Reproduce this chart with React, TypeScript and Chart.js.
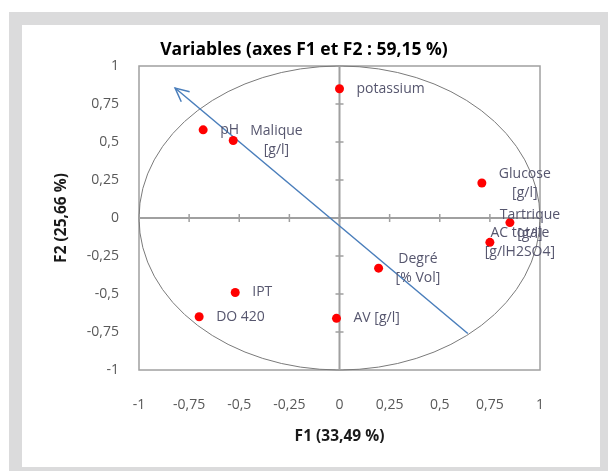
import React, { useEffect, useRef } from "react";
import { Chart, registerables } from "chart.js";

Chart.register(...registerables);

// ---- data ----
const variableNames = [
  "potassium",
  "pH",
  "Malique [g/l]",
  "Glucose [g/l]",
  "Tartrique [g/l]",
  "AC totale [g/lH2SO4]",
  "Degré [% Vol]",
  "IPT",
  "DO 420",
  "AV [g/l]",
];
const labelLines = [
  ["potassium"],
  ["pH"],
  ["Malique", "[g/l]"],
  ["Glucose", "[g/l]"],
  ["Tartrique", "[g/l]"],
  ["AC totale", "[g/lH2SO4]"],
  ["Degré", "[% Vol]"],
  ["IPT"],
  ["DO 420"],
  ["AV [g/l]"],
];
const f1Values = [0.0, -0.68, -0.53, 0.71, 0.85, 0.75, 0.195, -0.52, -0.7, -0.015];
const f2Values = [0.85, 0.58, 0.51, 0.23, -0.03, -0.16, -0.33, -0.49, -0.65, -0.66];
const arrowF1 = [0.64, -0.82];
const arrowF2 = [-0.76, 0.855];
const tickValues = [-1, -0.75, -0.5, -0.25, 0, 0.25, 0.5, 0.75, 1];

const titleText = "Variables (axes F1 et F2 : 59,15 %)";
const xTitle = "F1 (33,49 %)";
const yTitle = "F2 (25,66 %)";

// ---- style ----
const FONT = "'Open Sans', 'Liberation Sans', sans-serif";
const LABEL_GAP = 17;
const LABEL_LINE = 19;
const labelCenterOverride: Record<string, number> = {
  "Tartrique [g/l]": 20,
  "AC totale [g/lH2SO4]": 30,
};
const labelDyOverride: Record<string, number> = {
  "Tartrique [g/l]": 2,
};

const fmt = (v: number) => String(v).replace(".", ",");

const pcaPlugin = {
  id: "pcaDecor",
  beforeDatasetsDraw(chart: any) {
    const { ctx, chartArea: a, scales } = chart;
    const x = scales.x;
    const y = scales.y;
    ctx.save();
    // plot frame
    ctx.strokeStyle = "#a0a0a0";
    ctx.lineWidth = 1.5;
    ctx.strokeRect(a.left, a.top, a.right - a.left, a.bottom - a.top);
    // correlation circle
    const cx = x.getPixelForValue(0);
    const cy = y.getPixelForValue(0);
    const rx = x.getPixelForValue(1) - cx;
    const ry = cy - y.getPixelForValue(1);
    ctx.beginPath();
    ctx.ellipse(cx, cy, rx, ry, 0, 0, Math.PI * 2);
    ctx.strokeStyle = "#7a7a7a";
    ctx.lineWidth = 1;
    ctx.stroke();
    // crossing axes
    ctx.strokeStyle = "#a0a0a0";
    ctx.lineWidth = 2;
    ctx.beginPath();
    ctx.moveTo(x.getPixelForValue(-1), cy);
    ctx.lineTo(x.getPixelForValue(1), cy);
    ctx.moveTo(cx, y.getPixelForValue(1));
    ctx.lineTo(cx, y.getPixelForValue(-1));
    ctx.stroke();
    ctx.lineWidth = 1.5;
    ctx.beginPath();
    tickValues.forEach((v) => {
      const px = x.getPixelForValue(v);
      ctx.moveTo(px, cy - 4);
      ctx.lineTo(px, cy + 4);
      const py = y.getPixelForValue(v);
      ctx.moveTo(cx - 4, py);
      ctx.lineTo(cx + 4, py);
    });
    ctx.stroke();
    ctx.restore();
  },
  afterDatasetsDraw(chart: any) {
    const { ctx, scales } = chart;
    const x = scales.x;
    const y = scales.y;
    ctx.save();
    // arrow head
    const tx = x.getPixelForValue(arrowF1[1]);
    const ty = y.getPixelForValue(arrowF2[1]);
    const sx = x.getPixelForValue(arrowF1[0]);
    const sy = y.getPixelForValue(arrowF2[0]);
    const ang = Math.atan2(sy - ty, sx - tx);
    const len = 15;
    const spread = Math.PI / 7;
    ctx.strokeStyle = "#4a7ebb";
    ctx.lineWidth = 1.5;
    ctx.beginPath();
    ctx.moveTo(tx + len * Math.cos(ang - spread), ty + len * Math.sin(ang - spread));
    ctx.lineTo(tx, ty);
    ctx.lineTo(tx + len * Math.cos(ang + spread), ty + len * Math.sin(ang + spread));
    ctx.stroke();
    // point labels
    ctx.font = `14px ${FONT}`;
    ctx.fillStyle = "#56566e";
    ctx.textAlign = "center";
    ctx.textBaseline = "middle";
    variableNames.forEach((name, i) => {
      const px = x.getPixelForValue(f1Values[i]);
      const py = y.getPixelForValue(f2Values[i]);
      const lines = labelLines[i];
      const w = Math.max(...lines.map((l) => ctx.measureText(l).width));
      const centerX =
        name in labelCenterOverride ? px + labelCenterOverride[name] : px + LABEL_GAP + w / 2;
      const dy = labelDyOverride[name] || 0;
      const startY = py + dy - ((lines.length - 1) * LABEL_LINE) / 2;
      lines.forEach((l, j) => ctx.fillText(l, centerX, startY + j * LABEL_LINE));
    });
    ctx.restore();
  },
};

export default function App() {
  const ref = useRef<HTMLCanvasElement | null>(null);

  useEffect(() => {
    if (!ref.current) return;
    const tickFont = { family: FONT, size: 14 };
    const chart = new Chart(ref.current, {
      type: "scatter",
      data: {
        datasets: [
          {
            label: "variables",
            data: f1Values.map((v, i) => ({ x: v, y: f2Values[i] })),
            backgroundColor: "#ff0000",
            borderColor: "#ff0000",
            pointRadius: 4.5,
            pointBorderWidth: 0,
          },
          {
            label: "arrow",
            data: arrowF1.map((v, i) => ({ x: v, y: arrowF2[i] })),
            showLine: true,
            borderColor: "#4a7ebb",
            borderWidth: 1.5,
            pointRadius: 0,
          },
        ],
      },
      options: {
        responsive: false,
        animation: false,
        layout: { padding: 0 },
        plugins: {
          legend: { display: false },
          tooltip: { enabled: false },
          title: {
            display: true,
            text: titleText,
            color: "#000000",
            font: { family: FONT, size: 17.5, weight: "bold" },
            padding: { top: 39.5, bottom: 5.5 },
          },
        },
        scales: {
          x: {
            type: "linear",
            min: -1,
            max: 1,
            afterBuildTicks: (s: any) => {
              s.ticks = tickValues.map((v) => ({ value: v }));
            },
            afterFit: (s: any) => {
              s.height = 101;
            },
            ticks: {
              callback: (v: any) => fmt(Number(v)),
              color: "#595959",
              font: tickFont,
              padding: 27,
              autoSkip: false,
              maxRotation: 0,
            },
            grid: { display: false, drawTicks: false },
            border: { display: false },
            title: {
              display: true,
              text: xTitle,
              color: "#1a1a1a",
              font: { family: FONT, size: 15.5, weight: "bold" },
              padding: { top: 0, bottom: 24.7 },
            },
          },
          y: {
            type: "linear",
            position: "left",
            min: -1,
            max: 1,
            afterBuildTicks: (s: any) => {
              s.ticks = tickValues.map((v) => ({ value: v }));
            },
            afterFit: (s: any) => {
              s.width = 139;
            },
            ticks: {
              callback: (v: any) => fmt(Number(v)),
              color: "#595959",
              font: tickFont,
              padding: 20,
              autoSkip: false,
            },
            grid: { display: false, drawTicks: false },
            border: { display: false },
            title: {
              display: true,
              text: yTitle,
              color: "#1a1a1a",
              font: { family: FONT, size: 15.5, weight: "bold" },
              padding: { top: 52.7, bottom: 0 },
            },
          },
          y2: {
            type: "linear",
            position: "right",
            min: -1,
            max: 1,
            ticks: { display: false },
            grid: { display: false, drawTicks: false },
            border: { display: false },
            afterFit: (s: any) => {
              s.width = 68;
            },
          },
        },
      } as any,
      plugins: [pcaPlugin],
    });
    return () => chart.destroy();
  }, []);

  return (
    <div
      style={{
        position: "fixed",
        left: 0,
        top: 0,
        width: 608,
        height: 471,
        background: "#ffffff",
        overflow: "hidden",
      }}
    >
      <div
        style={{
          position: "absolute",
          left: 9,
          top: 12,
          width: 599,
          height: 459,
          background: "#dbdbdc",
        }}
      />
      <div
        style={{
          position: "absolute",
          left: 22,
          top: 25,
          width: 578,
          height: 442,
          background: "#ffffff",
        }}
      />
      <canvas
        ref={ref}
        width={608}
        height={471}
        style={{ position: "absolute", left: 0, top: 0, width: 608, height: 471 }}
      />
    </div>
  );
}
